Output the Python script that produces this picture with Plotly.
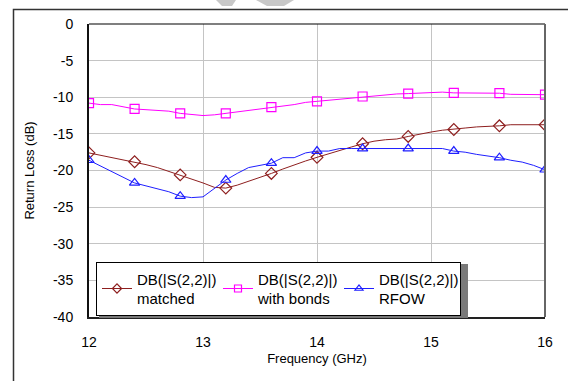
import plotly.graph_objects as go

freq = [12.0, 12.1, 12.2, 12.3, 12.4, 12.5, 12.6, 12.7, 12.8, 12.9,
        13.0, 13.1, 13.2, 13.3, 13.4, 13.5, 13.6, 13.7, 13.8, 13.9,
        14.0, 14.1, 14.2, 14.3, 14.4, 14.5, 14.6, 14.7, 14.8, 14.9,
        15.0, 15.1, 15.2, 15.3, 15.4, 15.5, 15.6, 15.7, 15.8, 15.9, 16.0]

matched = [-17.6, -17.9, -18.2, -18.5, -18.8, -19.2, -19.6, -20.1, -20.6, -21.1,
           -21.7, -22.3, -22.4, -22.0, -21.5, -20.9, -20.4, -19.8, -19.2, -18.7,
           -18.2, -17.7, -17.3, -16.8, -16.35, -16.0, -15.8, -15.7, -15.35, -15.0,
           -14.75, -14.5, -14.4, -14.2, -14.05, -14.0, -13.9, -13.75, -13.75, -13.75, -13.75]

with_bonds = [-10.8, -11.0, -11.0, -11.3, -11.6, -11.7, -11.8, -11.9, -12.2, -12.3,
              -12.5, -12.4, -12.2, -12.0, -11.8, -11.6, -11.35, -11.2, -11.0, -10.7,
              -10.55, -10.4, -10.2, -10.1, -9.9, -9.75, -9.6, -9.55, -9.5, -9.4,
              -9.3, -9.3, -9.4, -9.4, -9.4, -9.4, -9.45, -9.6, -9.65, -9.65, -9.65]

rfow = [-18.6, -19.4, -20.1, -20.9, -21.7, -22.1, -22.5, -22.9, -23.5, -23.7,
        -23.6, -22.5, -21.3, -20.4, -19.6, -19.3, -19.0, -18.25, -18.25, -17.6,
        -17.35, -17.35, -17.0, -17.0, -17.0, -17.0, -17.0, -17.0, -17.0, -17.0,
        -17.0, -17.0, -17.35, -17.5, -17.8, -18.0, -18.25, -18.6, -18.85, -19.3, -19.9]

x_ticks = [12, 13, 14, 15, 16]
x_ticklabels = ["12", "13", "14", "15", "16"]
y_ticks = [0, -5, -10, -15, -20, -25, -30, -35, -40]
y_ticklabels = ["0", "-5", "-10", "-15", "-20", "-25", "-30", "-35", "-40"]

names = ["DB(|S(2,2)|)<br>matched", "DB(|S(2,2)|)<br>with bonds", "DB(|S(2,2)|)<br>RFOW"]
colors = ["#8e1f1f", "#ff00ff", "#1f1fff"]
symbols = ["diamond-open", "square-open", "triangle-up-open"]
series = [matched, with_bonds, rfow]
marker_step = 4  # markers every 0.4 GHz

W, H = 568, 381
ML, MR, MT, MB = 89, 23, 24, 64
PW, PH = W - ML - MR, H - MT - MB

def px(x):
    return (x - ML) / PW

def py(y):
    return (H - MB - y) / PH

FONT = "Liberation Sans, Arial, sans-serif"

fig = go.Figure()
for name, col, sym, ys in zip(names, colors, symbols, series):
    fig.add_trace(go.Scatter(x=freq, y=ys, mode="lines", line=dict(color=col, width=1),
                             showlegend=False, hoverinfo="skip"))
    fig.add_trace(go.Scatter(x=freq[::marker_step], y=ys[::marker_step], mode="markers",
                             marker=dict(symbol=sym, color=col, size=9, line=dict(width=1.2, color=col)),
                             showlegend=False))
    fig.add_trace(go.Scatter(x=[None], y=[None], mode="lines+markers", name=name,
                             line=dict(color=col, width=1),
                             marker=dict(symbol=sym, color=col, size=7, line=dict(width=1.2, color=col))))

shapes = [
    # outer frame
    dict(type="rect", xref="paper", yref="paper", x0=px(13.5), x1=px(600), y0=py(400), y1=py(9.5),
         line=dict(color="#333333", width=1.5), layer="below"),
    # plot top border
    dict(type="line", xref="paper", yref="paper", x0=0, x1=1, y0=1, y1=1,
         line=dict(color="black", width=1.2)),
    # plot right border
    dict(type="line", xref="paper", yref="paper", x0=1, x1=1, y0=0, y1=1,
         line=dict(color="#666666", width=2)),
    # legend shadow
    dict(type="rect", xref="paper", yref="paper", x0=px(99), x1=px(468), y0=py(318), y1=py(264),
         fillcolor="#7a7a7a", line=dict(width=0), layer="above"),
    # watermark fragments
    dict(type="path", xref="paper", yref="paper",
         path=f"M {px(216)} {py(0)} L {px(236)} {py(0)} L {px(232)} {py(6)} L {px(222)} {py(6)} Z",
         fillcolor="#c8c8c8", line=dict(width=0)),
    dict(type="path", xref="paper", yref="paper",
         path=f"M {px(256)} {py(0)} L {px(294)} {py(0)} L {px(284)} {py(6)} L {px(267)} {py(6)} Z",
         fillcolor="#c8c8c8", line=dict(width=0)),
]

fig.update_layout(
    width=W, height=H,
    margin=dict(l=ML, r=MR, t=MT, b=MB),
    paper_bgcolor="white", plot_bgcolor="white",
    font=dict(family=FONT, color="black", size=13),
    shapes=shapes,
    legend=dict(orientation="h", x=px(96), y=py(261.5), xanchor="left", yanchor="top",
                bgcolor="white", bordercolor="black", borderwidth=1,
                font=dict(family=FONT, size=15, color="black"),
                entrywidth=76, entrywidthmode="pixels", tracegroupgap=0,
                itemclick=False),
    xaxis=dict(range=[12, 16], tickvals=x_ticks, ticktext=x_ticklabels,
               showgrid=True, gridcolor="#c4c4c4", gridwidth=1,
               showline=True, linecolor="#222222", linewidth=2, zeroline=False,
               ticks="", ticklabelstandoff=11, tickfont=dict(size=14),
               title=dict(text="Frequency (GHz)", font=dict(size=13), standoff=5)),
    yaxis=dict(range=[-40, 0], tickvals=y_ticks, ticktext=y_ticklabels,
               showgrid=True, gridcolor="#c4c4c4", gridwidth=1,
               showline=True, linecolor="#111111", linewidth=2, zeroline=False,
               ticks="", ticklabelstandoff=11, tickfont=dict(size=14),
               title=dict(text="Return Loss (dB)", font=dict(size=13), standoff=15)),
)

fig.write_html("out.html")
